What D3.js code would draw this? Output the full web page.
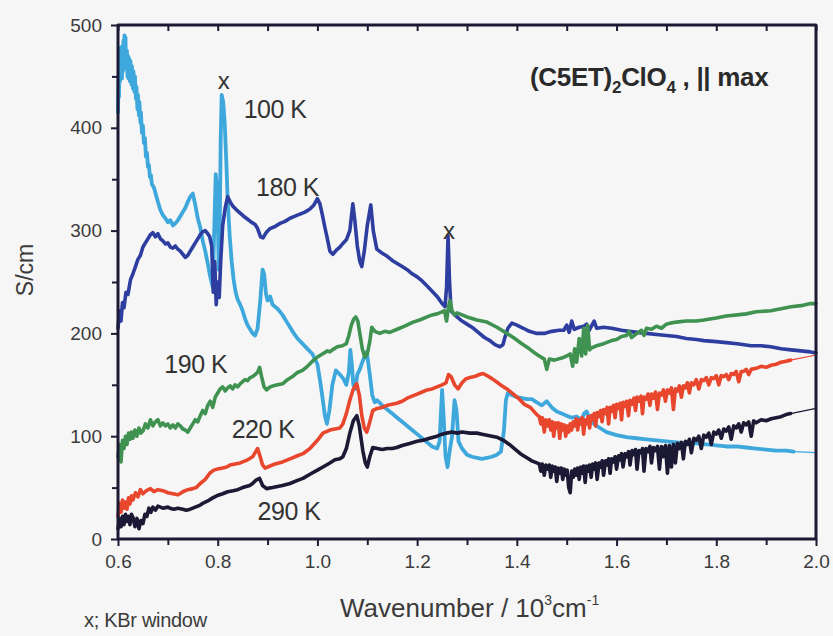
<!doctype html>
<html>
  <head>
    <meta charset="utf-8" />
    <title>(C5ET)2ClO4 optical conductivity</title>
    <style>
      body { margin: 0; background: #f6f6f6; }
      svg { display: block; font-family: "Liberation Sans", Arial, sans-serif; }
    </style>
  </head>
  <body>
    <svg id="chart" width="833" height="636"></svg>
    <script src="https://d3js.org/d3.v7.min.js"></script>
    <script>
      // x ticks (10^3 cm^-1) and y ticks (S/cm)
      const xTicks = [0.6, 0.8, 1.0, 1.2, 1.4, 1.6, 1.8, 2.0];
      const xMinorTicks = [0.7, 0.9, 1.1, 1.3, 1.5, 1.7, 1.9];
      const yTicks = [0, 100, 200, 300, 400, 500];
      const yMinorTicks = [50, 150, 250, 350, 450];

      // spectra: [wavenumber, conductivity]
      const s100K = [[0.600,415],[0.601,450],[0.602,430],[0.603,470],[0.604,445],[0.605,478],[0.606,450],[0.607,472],[0.608,448],[0.609,480],[0.610,455],[0.611,485],[0.612,462],[0.613,490],[0.614,465],[0.615,488],[0.616,458],[0.618,475],[0.619,450],[0.620,470],[0.621,448],[0.622,468],[0.624,445],[0.625,465],[0.627,442],[0.628,460],[0.630,438],[0.631,455],[0.633,435],[0.634,450],[0.636,428],[0.637,440],[0.639,418],[0.640,432],[0.642,412],[0.643,425],[0.645,405],[0.646,415],[0.648,395],[0.650,402],[0.652,385],[0.654,390],[0.656,372],[0.658,376],[0.660,362],[0.662,364],[0.664,352],[0.666,354],[0.668,345],[0.672,342],[0.676,335],[0.680,328],[0.685,320],[0.690,315],[0.695,312],[0.700,308],[0.705,310],[0.710,305],[0.715,307],[0.720,310],[0.725,314],[0.730,318],[0.735,322],[0.740,328],[0.745,333],[0.750,336],[0.755,325],[0.760,312],[0.765,303],[0.770,290],[0.775,280],[0.780,268],[0.785,255],[0.790,245],[0.793,300],[0.796,355],[0.799,340],[0.802,262],[0.804,300],[0.806,390],[0.808,432],[0.811,425],[0.814,405],[0.817,370],[0.820,330],[0.824,295],[0.828,270],[0.832,252],[0.836,240],[0.840,233],[0.845,228],[0.850,222],[0.855,214],[0.860,208],[0.865,204],[0.870,200],[0.875,198],[0.880,205],[0.885,230],[0.890,262],[0.893,258],[0.897,238],[0.900,232],[0.905,236],[0.910,228],[0.915,226],[0.920,224],[0.930,218],[0.940,210],[0.950,202],[0.960,195],[0.970,190],[0.980,185],[0.990,180],[1.000,170],[1.005,155],[1.010,138],[1.015,120],[1.019,112],[1.024,125],[1.030,150],[1.037,164],[1.045,160],[1.052,156],[1.058,150],[1.063,162],[1.066,184],[1.069,170],[1.072,150],[1.076,146],[1.080,160],[1.085,165],[1.090,172],[1.095,178],[1.099,182],[1.105,160],[1.110,140],[1.115,133],[1.120,135],[1.130,130],[1.140,126],[1.150,122],[1.160,118],[1.170,114],[1.180,110],[1.190,106],[1.200,102],[1.210,98],[1.220,94],[1.230,90],[1.240,88],[1.245,95],[1.250,145],[1.253,120],[1.257,80],[1.261,70],[1.265,85],[1.270,100],[1.275,135],[1.279,125],[1.283,95],[1.290,88],[1.300,82],[1.310,80],[1.320,79],[1.330,78],[1.340,79],[1.350,80],[1.360,82],[1.368,85],[1.374,105],[1.378,135],[1.382,142],[1.390,140],[1.400,138],[1.410,137],[1.420,136],[1.430,136],[1.440,133],[1.450,130],[1.460,134],[1.470,128],[1.480,124],[1.490,122],[1.500,120],[1.510,118],[1.520,119],[1.530,116],[1.535,122],[1.540,124],[1.545,118],[1.550,114],[1.560,110],[1.570,107],[1.580,104],[1.600,101],[1.620,99],[1.640,98],[1.660,97],[1.680,96],[1.700,95],[1.720,94],[1.740,93],[1.760,93],[1.780,92],[1.800,91],[1.820,90],[1.840,90],[1.860,89],[1.880,88],[1.900,87],[1.920,86],[1.940,86],[1.955,85]];
      const s180K = [[0.600,205],[0.603,222],[0.606,212],[0.609,230],[0.612,225],[0.616,240],[0.620,238],[0.625,252],[0.630,258],[0.635,265],[0.640,272],[0.645,276],[0.650,284],[0.655,288],[0.660,292],[0.665,296],[0.670,298],[0.675,294],[0.680,297],[0.685,292],[0.690,290],[0.695,287],[0.700,288],[0.705,284],[0.710,283],[0.715,285],[0.720,282],[0.725,280],[0.730,277],[0.735,274],[0.740,276],[0.745,280],[0.750,284],[0.755,288],[0.760,292],[0.765,296],[0.770,299],[0.775,300],[0.780,297],[0.784,294],[0.788,285],[0.791,240],[0.794,270],[0.797,228],[0.800,250],[0.803,235],[0.806,270],[0.810,305],[0.815,322],[0.820,333],[0.825,328],[0.830,324],[0.838,320],[0.845,317],[0.852,314],[0.860,311],[0.868,308],[0.875,306],[0.880,302],[0.886,294],[0.891,293],[0.897,298],[0.905,302],[0.915,304],[0.925,307],[0.935,309],[0.945,312],[0.955,314],[0.965,316],[0.975,318],[0.985,321],[0.993,325],[1.000,331],[1.005,326],[1.010,315],[1.015,303],[1.020,292],[1.025,280],[1.031,277],[1.038,281],[1.045,284],[1.052,288],[1.058,291],[1.065,300],[1.071,326],[1.075,310],[1.080,285],[1.085,270],[1.089,265],[1.094,280],[1.100,305],[1.107,325],[1.112,300],[1.119,282],[1.130,278],[1.140,275],[1.150,271],[1.160,268],[1.170,265],[1.180,262],[1.190,258],[1.200,255],[1.210,251],[1.220,246],[1.230,241],[1.240,236],[1.250,229],[1.256,226],[1.259,245],[1.262,295],[1.265,250],[1.268,222],[1.275,218],[1.280,216],[1.290,212],[1.300,209],[1.313,205],[1.325,200],[1.335,196],[1.346,193],[1.356,189],[1.366,187],[1.372,189],[1.376,196],[1.382,205],[1.390,210],[1.400,208],[1.413,205],[1.425,202],[1.440,200],[1.455,200],[1.470,202],[1.485,203],[1.494,203],[1.500,208],[1.505,201],[1.510,212],[1.515,204],[1.525,206],[1.535,207],[1.540,209],[1.545,203],[1.555,212],[1.560,205],[1.574,206],[1.590,205],[1.610,203],[1.625,202],[1.641,201],[1.660,200],[1.680,199],[1.700,198],[1.720,197],[1.740,195],[1.760,194],[1.775,193],[1.800,192],[1.820,191],[1.842,190],[1.870,188],[1.890,188],[1.909,187],[1.930,185],[1.950,184],[1.970,183],[1.989,182],[2.000,181]];
      const s190K = [[0.600,80],[0.603,92],[0.606,75],[0.609,96],[0.612,88],[0.615,100],[0.618,92],[0.621,103],[0.624,97],[0.627,104],[0.630,98],[0.634,106],[0.638,100],[0.642,108],[0.646,103],[0.650,105],[0.655,112],[0.660,108],[0.665,116],[0.670,110],[0.675,114],[0.680,116],[0.685,110],[0.690,113],[0.695,110],[0.700,112],[0.705,108],[0.710,111],[0.715,108],[0.720,112],[0.725,110],[0.730,107],[0.735,106],[0.740,104],[0.745,108],[0.750,112],[0.755,116],[0.760,114],[0.765,120],[0.770,125],[0.775,122],[0.780,130],[0.785,134],[0.790,128],[0.795,138],[0.800,142],[0.805,146],[0.810,148],[0.815,144],[0.820,147],[0.825,149],[0.830,146],[0.835,150],[0.840,148],[0.845,151],[0.850,153],[0.855,155],[0.860,154],[0.865,157],[0.870,158],[0.875,160],[0.880,162],[0.884,167],[0.888,158],[0.893,148],[0.898,145],[0.905,148],[0.912,149],[0.920,150],[0.930,151],[0.940,155],[0.950,158],[0.960,162],[0.970,164],[0.980,168],[0.990,173],[1.000,177],[1.010,180],[1.020,183],[1.025,182],[1.030,184],[1.040,187],[1.050,188],[1.058,190],[1.063,198],[1.068,208],[1.073,214],[1.077,216],[1.081,212],[1.085,200],[1.090,185],[1.095,177],[1.100,180],[1.105,192],[1.109,206],[1.115,202],[1.125,200],[1.135,202],[1.145,201],[1.160,204],[1.175,207],[1.192,211],[1.205,213],[1.220,216],[1.230,218],[1.240,219],[1.250,221],[1.255,222],[1.259,212],[1.263,226],[1.266,232],[1.270,222],[1.275,218],[1.280,220],[1.290,218],[1.300,216],[1.320,213],[1.340,211],[1.360,206],[1.380,200],[1.393,196],[1.410,190],[1.425,185],[1.433,182],[1.445,178],[1.455,175],[1.460,165],[1.465,175],[1.475,174],[1.490,176],[1.500,178],[1.507,180],[1.512,168],[1.516,185],[1.520,172],[1.525,195],[1.530,178],[1.534,205],[1.538,180],[1.542,208],[1.546,184],[1.550,186],[1.560,188],[1.574,190],[1.590,193],[1.600,194],[1.610,197],[1.620,198],[1.625,202],[1.630,196],[1.641,200],[1.650,203],[1.655,198],[1.660,205],[1.670,204],[1.680,207],[1.690,205],[1.700,209],[1.708,210],[1.720,211],[1.740,212],[1.760,212],[1.775,213],[1.800,215],[1.820,217],[1.842,218],[1.860,219],[1.880,221],[1.909,222],[1.930,224],[1.950,226],[1.970,227],[1.989,229],[2.000,229]];
      const s220K = [[0.600,22],[0.603,35],[0.606,26],[0.609,38],[0.612,30],[0.615,36],[0.618,29],[0.621,40],[0.624,34],[0.627,42],[0.630,38],[0.635,45],[0.640,41],[0.645,48],[0.650,44],[0.657,47],[0.665,49],[0.672,46],[0.680,48],[0.690,47],[0.700,45],[0.710,44],[0.720,43],[0.724,44],[0.730,46],[0.740,48],[0.750,49],[0.757,50],[0.765,54],[0.775,58],[0.784,64],[0.792,67],[0.800,68],[0.810,69],[0.818,70],[0.825,72],[0.835,73],[0.845,74],[0.850,75],[0.860,77],[0.870,80],[0.875,84],[0.880,88],[0.884,82],[0.890,72],[0.895,69],[0.905,71],[0.915,73],[0.930,75],[0.945,78],[0.960,81],[0.971,83],[0.985,88],[1.000,96],[1.011,103],[1.025,106],[1.035,107],[1.045,108],[1.051,112],[1.058,122],[1.065,135],[1.072,146],[1.079,151],[1.084,140],[1.089,120],[1.094,108],[1.099,104],[1.104,112],[1.111,125],[1.120,127],[1.130,128],[1.140,130],[1.150,131],[1.159,132],[1.170,134],[1.180,137],[1.190,139],[1.200,141],[1.210,143],[1.220,145],[1.230,146],[1.240,148],[1.250,150],[1.258,152],[1.263,160],[1.268,158],[1.275,150],[1.282,146],[1.290,152],[1.298,156],[1.306,157],[1.315,158],[1.325,160],[1.332,161],[1.340,159],[1.350,156],[1.359,153],[1.370,149],[1.380,146],[1.393,141],[1.405,136],[1.415,131],[1.427,128],[1.440,121],[1.445,119],[1.448,112],[1.451,118],[1.455,104],[1.458,116],[1.462,110],[1.465,116],[1.468,106],[1.471,114],[1.474,100],[1.477,113],[1.480,108],[1.483,113],[1.486,98],[1.489,112],[1.492,106],[1.495,111],[1.498,100],[1.501,110],[1.504,104],[1.507,112],[1.510,106],[1.513,114],[1.516,110],[1.519,117],[1.522,106],[1.525,116],[1.528,112],[1.531,118],[1.534,102],[1.537,116],[1.540,112],[1.543,119],[1.546,108],[1.549,120],[1.552,116],[1.555,122],[1.558,110],[1.561,123],[1.565,119],[1.568,125],[1.571,114],[1.574,126],[1.578,122],[1.581,128],[1.584,112],[1.587,128],[1.590,124],[1.594,130],[1.597,118],[1.600,131],[1.604,127],[1.607,132],[1.610,116],[1.613,133],[1.617,129],[1.620,134],[1.624,120],[1.627,135],[1.631,131],[1.635,137],[1.638,125],[1.641,138],[1.645,134],[1.649,139],[1.652,122],[1.655,138],[1.659,136],[1.663,141],[1.667,130],[1.670,141],[1.674,137],[1.678,143],[1.682,126],[1.686,142],[1.690,140],[1.694,145],[1.698,134],[1.702,145],[1.706,142],[1.710,147],[1.714,126],[1.718,146],[1.722,144],[1.726,149],[1.730,138],[1.734,149],[1.738,147],[1.742,152],[1.746,142],[1.750,152],[1.755,150],[1.760,155],[1.765,146],[1.770,155],[1.775,154],[1.780,157],[1.785,150],[1.790,157],[1.795,156],[1.800,159],[1.805,150],[1.810,159],[1.815,158],[1.820,160],[1.825,155],[1.830,161],[1.835,160],[1.840,163],[1.845,153],[1.850,163],[1.855,163],[1.860,165],[1.865,160],[1.870,165],[1.880,166],[1.890,168],[1.900,167],[1.910,169],[1.920,170],[1.930,172],[1.940,173],[1.949,174]];
      const s290K = [[0.600,10],[0.603,20],[0.606,12],[0.609,22],[0.612,14],[0.615,24],[0.618,17],[0.621,22],[0.624,14],[0.627,24],[0.630,21],[0.634,12],[0.638,20],[0.642,10],[0.646,18],[0.650,15],[0.654,24],[0.658,22],[0.662,30],[0.666,26],[0.670,31],[0.675,28],[0.680,32],[0.690,30],[0.700,31],[0.704,30],[0.712,29],[0.720,30],[0.730,29],[0.737,28],[0.745,29],[0.755,31],[0.765,33],[0.771,35],[0.780,37],[0.790,40],[0.798,42],[0.810,44],[0.820,46],[0.831,47],[0.840,48],[0.850,50],[0.857,51],[0.864,52],[0.870,54],[0.876,57],[0.884,59],[0.890,52],[0.898,49],[0.910,50],[0.920,51],[0.930,52],[0.945,54],[0.960,57],[0.971,59],[0.985,63],[1.000,67],[1.011,70],[1.025,74],[1.035,77],[1.045,78],[1.051,80],[1.058,88],[1.065,103],[1.072,115],[1.079,120],[1.084,110],[1.091,86],[1.096,74],[1.100,70],[1.105,80],[1.111,89],[1.120,88],[1.130,87],[1.140,88],[1.150,88],[1.159,89],[1.170,91],[1.185,93],[1.200,95],[1.212,96],[1.225,98],[1.240,100],[1.250,102],[1.259,103],[1.270,104],[1.280,103],[1.290,104],[1.306,103],[1.320,103],[1.330,102],[1.340,101],[1.350,100],[1.360,99],[1.373,96],[1.385,92],[1.395,88],[1.407,83],[1.420,79],[1.430,76],[1.440,74],[1.445,73],[1.448,66],[1.451,73],[1.455,62],[1.458,72],[1.462,68],[1.465,72],[1.468,60],[1.471,71],[1.474,66],[1.477,70],[1.480,56],[1.483,69],[1.486,64],[1.489,69],[1.492,58],[1.495,68],[1.498,62],[1.501,67],[1.504,50],[1.507,45],[1.510,66],[1.513,60],[1.516,68],[1.519,62],[1.522,69],[1.525,58],[1.528,70],[1.531,64],[1.534,71],[1.537,55],[1.540,71],[1.543,66],[1.546,72],[1.549,60],[1.552,73],[1.555,68],[1.558,74],[1.561,58],[1.565,74],[1.568,70],[1.571,76],[1.574,62],[1.578,76],[1.581,72],[1.584,78],[1.587,64],[1.590,78],[1.594,75],[1.597,80],[1.600,68],[1.604,81],[1.607,77],[1.610,83],[1.613,70],[1.617,83],[1.620,80],[1.624,85],[1.627,72],[1.631,86],[1.635,82],[1.638,87],[1.641,68],[1.645,86],[1.649,84],[1.652,88],[1.655,66],[1.659,88],[1.663,85],[1.667,90],[1.670,74],[1.674,89],[1.678,86],[1.682,90],[1.686,68],[1.690,90],[1.694,80],[1.698,91],[1.702,64],[1.706,91],[1.710,70],[1.714,92],[1.718,74],[1.722,93],[1.726,88],[1.730,94],[1.734,78],[1.738,95],[1.742,92],[1.746,97],[1.750,84],[1.755,98],[1.760,96],[1.765,100],[1.770,88],[1.775,101],[1.780,99],[1.785,103],[1.790,92],[1.795,104],[1.800,102],[1.805,106],[1.810,98],[1.815,107],[1.820,105],[1.825,109],[1.830,97],[1.835,110],[1.840,108],[1.845,112],[1.850,104],[1.855,113],[1.860,111],[1.865,114],[1.870,100],[1.875,115],[1.880,113],[1.890,116],[1.900,115],[1.910,117],[1.920,118],[1.930,119],[1.940,121],[1.949,122]];

      // thin continuation drawn to the right border for three spectra
      const tailEnds = { "100 K": 84, "220 K": 179, "290 K": 127 };

      const series = [
        { name: "100 K", data: s100K, color: "#3ea8dd", width: 3.8 },
        { name: "180 K", data: s180K, color: "#2d3ea0", width: 3.6 },
        { name: "190 K", data: s190K, color: "#3f9250", width: 3.6 },
        { name: "220 K", data: s220K, color: "#e8462d", width: 3.6 },
        { name: "290 K", data: s290K, color: "#1c1934", width: 3.6 },
      ];

      // where the temperature labels sit, in data units
      const tempLabels = [
        { text: "100 K", x: 0.852, y: 410 },
        { text: "180 K", x: 0.877, y: 334 },
        { text: "190 K", x: 0.693, y: 161 },
        { text: "220 K", x: 0.828, y: 98 },
        { text: "290 K", x: 0.880, y: 18 },
      ];
      const windowMarks = [
        { x: 0.812, y: 438 },
        { x: 1.264, y: 292 },
      ];

      const svg = d3.select('#chart');
      const mLeft = 118, mRight = 816, mTop = 25, mBottom = 539;
      const x = d3.scaleLinear().domain([0.6, 2.0]).range([mLeft, mRight]);
      const y = d3.scaleLinear().domain([0, 500]).range([mBottom, mTop]);
      // same ink as the 290 K curve, which is known to show up
      const frameInk = '#1c1934';
      const labelColor = '#3b3b3b';

      // curves
      const line = d3.line().x((d) => x(d[0])).y((d) => y(d[1]));
      const curves = svg.append('g').attr('fill', 'none')
        .attr('stroke-linejoin', 'round').attr('stroke-linecap', 'round');
      series.forEach((s) => {
        const last = s.data[s.data.length - 1];
        if (tailEnds[s.name] !== undefined) {
          curves.append('path')
            .attr('d', line([last, [2.0, tailEnds[s.name]]]))
            .attr('stroke', s.color).attr('stroke-width', 1.2);
        }
        curves.append('path')
          .attr('d', line(s.data))
          .attr('stroke', s.color)
          .attr('stroke-width', s.width);
      });

      // plot frame, drawn like a curve
      curves.append('path')
        .attr('d', line([[0.6, 500], [2.0, 500], [2.0, 0], [0.6, 0], [0.6, 500]]))
        .attr('stroke', frameInk)
        .attr('stroke-width', 3);

      // axes with d3 ticks
      function styleAxis(g) {
        g.select('.domain').remove();
        g.selectAll('.tick line').attr('stroke', frameInk).attr('stroke-width', 2);
        g.selectAll('text').attr('fill', labelColor).attr('font-size', 19)
          .attr('font-family', '"Liberation Sans", Arial, sans-serif');
      }
      const gx = svg.append('g').attr('transform', `translate(0,${mBottom})`)
        .call(d3.axisBottom(x).tickValues(xTicks).tickFormat(d3.format('.1f')).tickSize(7).tickPadding(9));
      styleAxis(gx);
      const gxm = svg.append('g').attr('transform', `translate(0,${mBottom})`)
        .call(d3.axisBottom(x).tickValues(xMinorTicks).tickFormat(() => '').tickSize(6));
      styleAxis(gxm);
      const gy = svg.append('g').attr('transform', `translate(${mLeft},0)`)
        .call(d3.axisLeft(y).tickValues(yTicks).tickSize(7).tickPadding(9));
      styleAxis(gy);
      const gym = svg.append('g').attr('transform', `translate(${mLeft},0)`)
        .call(d3.axisLeft(y).tickValues(yMinorTicks).tickFormat(() => '').tickSize(6));
      styleAxis(gym);
      const gt = svg.append('g').attr('transform', `translate(0,${mTop})`)
        .call(d3.axisTop(x).tickValues(xTicks.concat(xMinorTicks)).tickFormat(() => '').tickSize(-6));
      styleAxis(gt);

      // annotations
      svg.append('g').selectAll('text').data(tempLabels).join('text')
        .attr('x', (d) => x(d.x)).attr('y', (d) => y(d.y))
        .attr('font-size', 25).attr('fill', '#333')
        .attr('letter-spacing', -0.5)
        .text((d) => d.text);

      svg.append('g').selectAll('text').data(windowMarks).join('text')
        .attr('x', (d) => x(d.x)).attr('y', (d) => y(d.y))
        .attr('text-anchor', 'middle')
        .attr('font-size', 24).attr('fill', '#333')
        .text('x');

      const title = svg.append('text')
        .attr('x', 530).attr('y', 86)
        .attr('font-size', 26).attr('font-weight', 'bold')
        .attr('fill', '#2a2a2a').attr('letter-spacing', -0.3);
      title.append('tspan').text('(C5ET)');
      title.append('tspan').attr('font-size', 17).attr('dy', 7).text('2');
      title.append('tspan').attr('dy', -7).text('ClO');
      title.append('tspan').attr('font-size', 17).attr('dy', 7).text('4');
      title.append('tspan').attr('dy', -7).text(' , || max');

      svg.append('text')
        .attr('transform', 'translate(33,270) rotate(-90)')
        .attr('text-anchor', 'middle')
        .attr('font-size', 23).attr('fill', labelColor)
        .text('S/cm');

      const xl = svg.append('text')
        .attr('x', 340).attr('y', 617)
        .attr('font-size', 26).attr('fill', labelColor);
      xl.append('tspan').text('Wavenumber / 10');
      xl.append('tspan').attr('font-size', 14).attr('dy', -12).text('3');
      xl.append('tspan').attr('dy', 12).text('cm');
      xl.append('tspan').attr('font-size', 14).attr('dy', -12).text('-1');

      svg.append('text')
        .attr('x', 84).attr('y', 627)
        .attr('font-size', 20).attr('fill', labelColor)
        .attr('letter-spacing', -0.3)
        .text('x; KBr window');
    </script>
  </body>
</html>
